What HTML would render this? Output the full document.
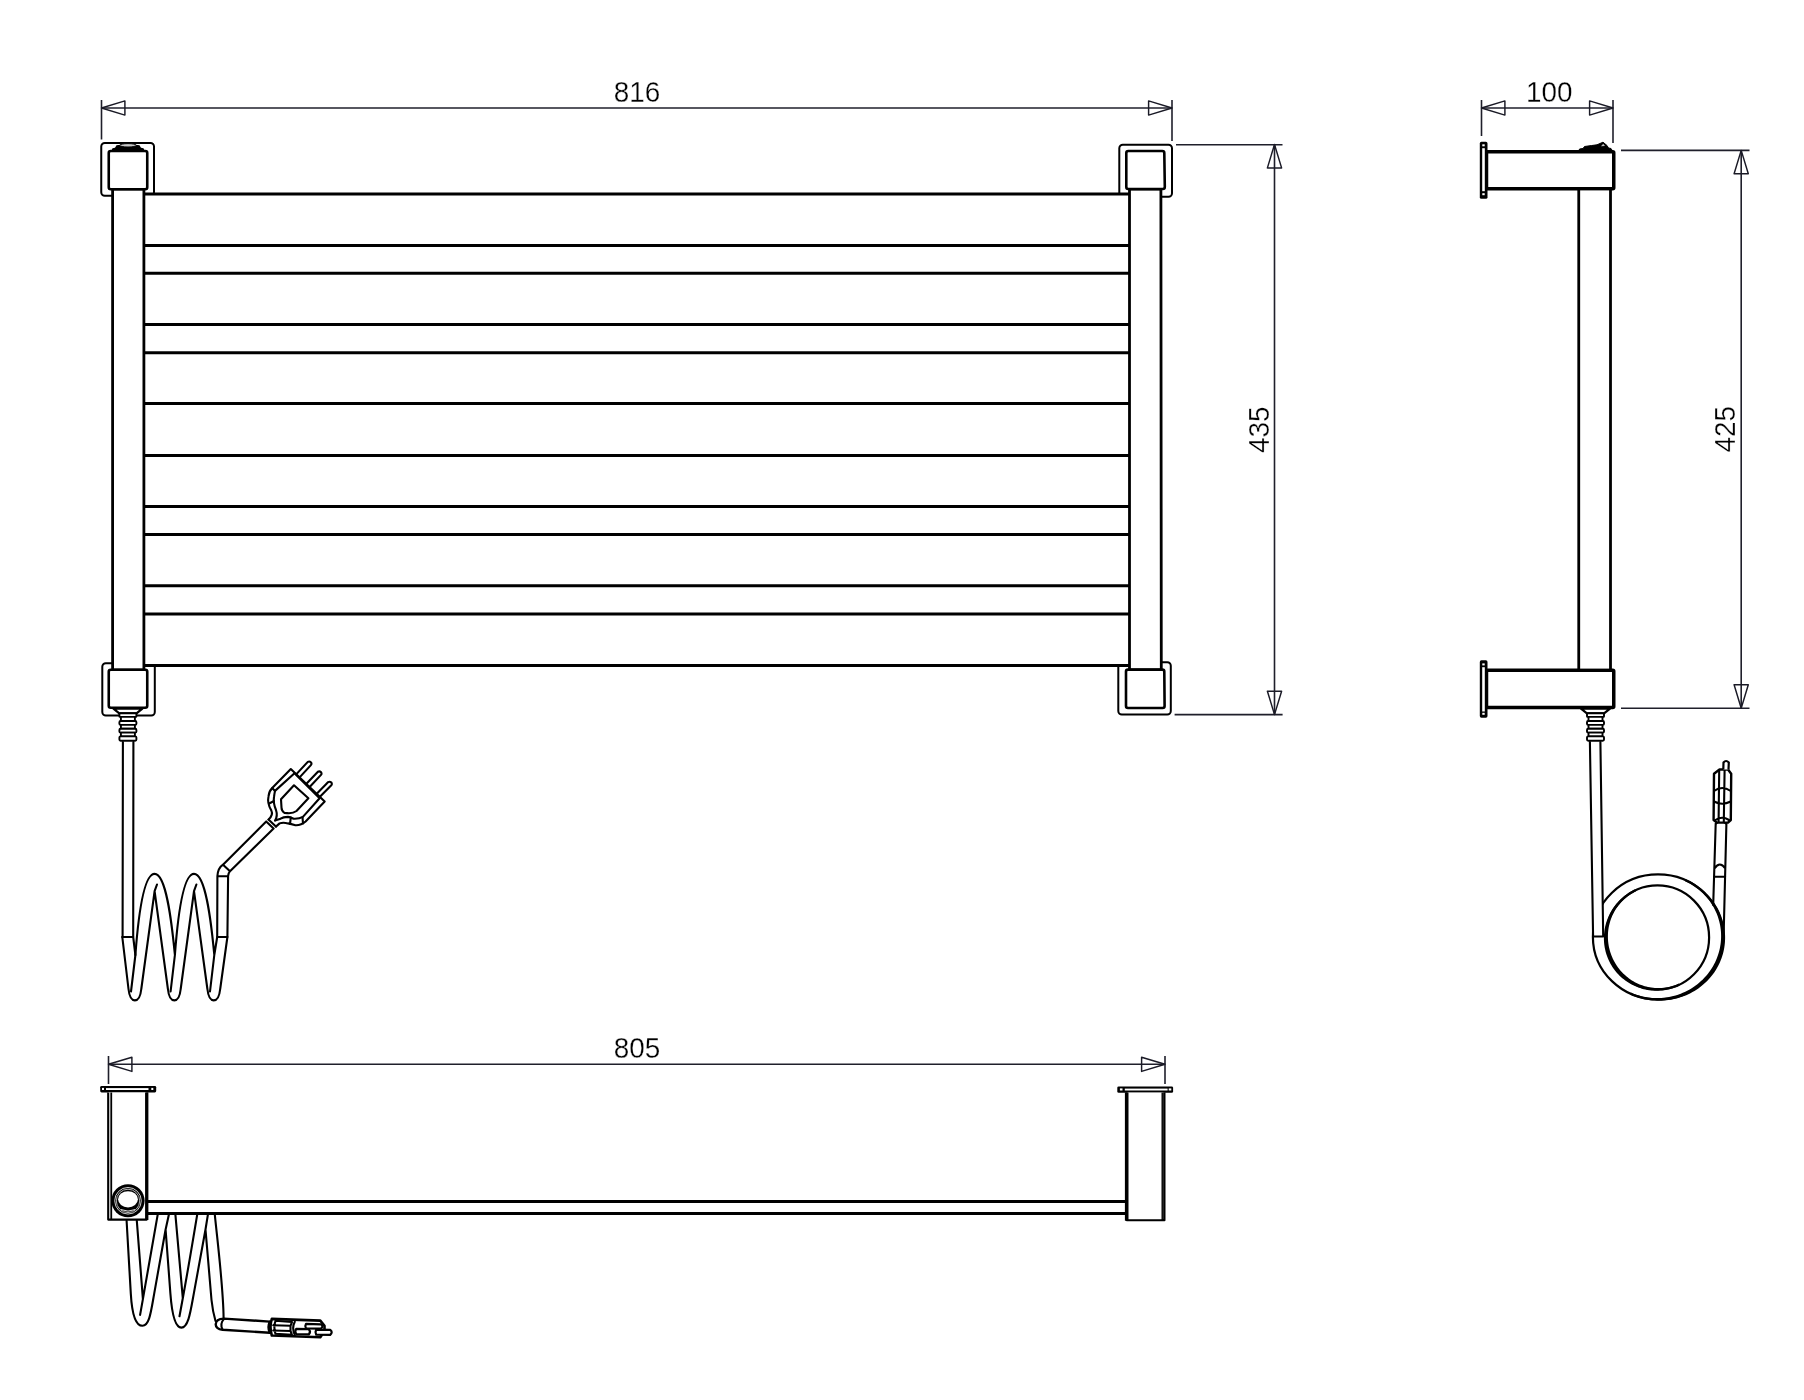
<!DOCTYPE html>
<html><head><meta charset="utf-8">
<style>
html,body{margin:0;padding:0;background:#fff;}
body{width:1804px;height:1400px;overflow:hidden;}
svg{display:block;will-change:transform;}
.d{stroke:#1f1f2b;stroke-width:1.6;fill:none;}
.a{stroke:#1a1a26;stroke-width:1.45;fill:none;stroke-linejoin:round;}
.t{font-family:"Liberation Sans",sans-serif;font-size:29.5px;fill:#000;stroke:#fff;stroke-width:0.3px;paint-order:normal;}
.k{stroke:#000;stroke-width:2.8;fill:#fff;}
.ka{stroke:#000;stroke-width:3.5;fill:#fff;}
.kn{stroke:#000;stroke-width:3;fill:none;}
.b2{stroke:#000;stroke-width:2.2;fill:#fff;}
.br{stroke:#000;stroke-width:2;fill:#fff;}
.cp{stroke:#000;stroke-width:2.6;fill:#fff;}
.c{stroke:#000;stroke-width:2;fill:#fff;stroke-linejoin:round;}
.cn{stroke:#000;stroke-width:2.1;fill:none;stroke-linejoin:round;stroke-linecap:round;}
</style></head>
<body>
<svg width="1804" height="1400" viewBox="0 0 1804 1400">
<rect width="1804" height="1400" fill="#fff"/>
<defs>
  <g id="conn">
    <path d="M-14.5,708.6 L14.5,708.6 L8.6,713.4 L-8.6,713.4 Z" fill="#fff" stroke="#000" stroke-width="2.2" stroke-linejoin="round"/>
    <g stroke="#000" stroke-width="1.9" fill="#fff" stroke-linejoin="round">
      <rect x="-8.5" y="713.2" width="17" height="3.7" rx="0.6"/>
      <rect x="-7" y="716.9" width="14" height="4.1"/>
      <rect x="-8.5" y="721" width="17" height="3.9" rx="1.2"/>
      <rect x="-7" y="724.9" width="14" height="3.8"/>
      <rect x="-8.5" y="728.7" width="17" height="3.9" rx="1.2"/>
      <rect x="-7" y="732.6" width="14" height="3.8"/>
      <rect x="-8.5" y="736.4" width="17" height="4.3" rx="1.2"/>
    </g>
  </g>
</defs>


<!-- ===== FRONT VIEW ===== -->
<g id="front">
  <!-- dimension 816 -->
  <line class="d" x1="101.5" y1="100" x2="101.5" y2="139.5"/>
  <line class="d" x1="1172" y1="100" x2="1172" y2="141"/>
  <line class="d" x1="101.5" y1="108" x2="1172" y2="108"/>
  <path class="a" d="M101.5,108 L124.9,100.9 L124.9,115.1 Z"/>
  <path class="a" d="M1172,108 L1148.6,100.9 L1148.6,115.1 Z"/>
  <text class="t" x="0" y="0" text-anchor="middle" transform="translate(637,101.7) scale(0.945,1)">816</text>

  <!-- brackets -->
  <rect class="br" x="101.25" y="143" width="52.75" height="52.75" rx="3.5"/>
  <rect class="br" x="1119.3" y="144.8" width="52.7" height="52" rx="3.5"/>
  <rect class="br" x="102.3" y="663.3" width="52.5" height="52.2" rx="3.5"/>
  <rect class="br" x="1118.3" y="662.2" width="52.5" height="52.3" rx="3.5"/>

  <!-- panel bars -->
  <rect x="144" y="193.7" width="985" height="471.7" fill="#fff"/>
  <g class="kn">
    <line x1="144" y1="194" x2="1129" y2="194"/>
    <line x1="144" y1="245.4" x2="1129" y2="245.4"/>
    <line x1="144" y1="273.3" x2="1129" y2="273.3"/>
    <line x1="144" y1="324.5" x2="1129" y2="324.5"/>
    <line x1="144" y1="352.7" x2="1129" y2="352.7"/>
    <line x1="144" y1="403.6" x2="1129" y2="403.6"/>
    <line x1="144" y1="455.4" x2="1129" y2="455.4"/>
    <line x1="144" y1="506.4" x2="1129" y2="506.4"/>
    <line x1="144" y1="534.5" x2="1129" y2="534.5"/>
    <line x1="144" y1="585.7" x2="1129" y2="585.7"/>
    <line x1="144" y1="614" x2="1129" y2="614"/>
    <line x1="144" y1="665.4" x2="1129" y2="665.4"/>
  </g>

  <!-- tubes -->
  <rect class="k" x="112.6" y="189" width="31.3" height="481"/>
  <path class="k" d="M1129.5,189 L1160.9,189 L1161.3,670 L1129.5,670 Z"/>

  <!-- caps -->
  <rect class="cp" x="108.75" y="151" width="38.5" height="38.3" rx="2"/>
  <path fill="#000" d="M111,151.5 L112.5,148.3 L115,147.8 L116.5,145.2 Q128,143.3 139.5,145.2 L141,147.8 L143.5,148.3 L145,151.5 Z"/><ellipse cx="128" cy="145.3" rx="8.3" ry="1.7" fill="#c8c8c8" stroke="#000" stroke-width="1"/>
  <path class="cp" d="M1128.3,151 L1162.3,151 Q1164.3,151 1164.3,153 L1164.8,187 Q1164.8,189 1162.8,189 L1128.3,189 Q1126.3,189 1126.3,187 L1126.3,153 Q1126.3,151 1128.3,151 Z"/>
  <rect class="cp" x="108.75" y="669.75" width="38.5" height="38" rx="2"/>
  <path class="cp" d="M1128,669.6 L1162.3,669.6 Q1164.3,669.6 1164.3,671.6 L1164.6,706 Q1164.6,708 1162.6,708 L1128,708 Q1126,708 1126,706 L1126,671.6 Q1126,669.6 1128,669.6 Z"/>

  <!-- dimension 435 -->
  <line class="d" x1="1176" y1="144.8" x2="1282.5" y2="144.8"/>
  <line class="d" x1="1174.6" y1="714.6" x2="1282.6" y2="714.6"/>
  <line class="d" x1="1274.5" y1="144.5" x2="1274.5" y2="714.6"/>
  <path class="a" d="M1274.5,144.5 L1267.4,167.9 L1281.6,167.9 Z"/>
  <path class="a" d="M1274.5,714.6 L1267.4,691.2 L1281.6,691.2 Z"/>
  <text class="t" x="0" y="0" text-anchor="middle" transform="translate(1269.2,429.7) rotate(-90) scale(0.945,1)">435</text>
</g>

<!-- ===== SIDE VIEW ===== -->
<g id="side">
  <line class="d" x1="1481.5" y1="100" x2="1481.5" y2="136"/>
  <line class="d" x1="1613" y1="100" x2="1613" y2="143"/>
  <line class="d" x1="1481.5" y1="108" x2="1613" y2="108"/>
  <path class="a" d="M1481.5,108 L1504.9,100.9 L1504.9,115.1 Z"/>
  <path class="a" d="M1613,108 L1589.6,100.9 L1589.6,115.1 Z"/>
  <text class="t" x="0" y="0" text-anchor="middle" transform="translate(1549.3,102) scale(0.945,1)">100</text>

  <!-- arms -->
  <rect class="ka" x="1486.5" y="151.75" width="127.25" height="37" rx="1"/>
  <rect class="ka" x="1486.5" y="670.25" width="127.25" height="37.25" rx="1"/>
  <rect class="k" x="1578.75" y="189" width="31.75" height="481"/>
  <rect x="1479.8" y="141.8" width="7.7" height="57" rx="1.6" fill="#000"/><rect x="1482.2" y="148.2" width="2.6" height="43" fill="#fff"/><rect x="1482.3" y="144.3" width="2.4" height="2" fill="#fff"/><rect x="1482.3" y="193.2" width="2.4" height="2" fill="#fff"/>
  <rect x="1479.8" y="660.3" width="7.7" height="57.4" rx="1.6" fill="#000"/><rect x="1482.2" y="667.2" width="2.6" height="44.3" fill="#fff"/><rect x="1482.3" y="663.4" width="2.4" height="2" fill="#fff"/><rect x="1482.3" y="712.8" width="2.4" height="2" fill="#fff"/>
  <path fill="#000" stroke="#000" stroke-width="1" stroke-linejoin="round" d="M1578.5,152 L1579.5,149 L1583,148.5 L1584.5,146.5 Q1592,145.5 1597,144.8 L1603,142.2 L1607,145.5 L1608.5,148 L1611,148.5 L1612.5,151 Z"/><path fill="#c0c0c0" d="M1601,146.2 L1603.2,143.8 L1605,146.1 Z"/>

  <!-- dimension 425 -->
  <line class="d" x1="1621" y1="150.4" x2="1749.5" y2="150.4"/>
  <line class="d" x1="1621" y1="708.2" x2="1749.5" y2="708.2"/>
  <line class="d" x1="1741.2" y1="150.4" x2="1741.2" y2="708.2"/>
  <path class="a" d="M1741.2,150.4 L1734.1,173.8 L1748.3,173.8 Z"/>
  <path class="a" d="M1741.2,708.2 L1734.1,684.8 L1748.3,684.8 Z"/>
  <text class="t" x="0" y="0" text-anchor="middle" transform="translate(1735.2,429.3) rotate(-90) scale(0.945,1)">425</text>
</g>

<!-- ===== TOP VIEW ===== -->
<g id="top">
  <line class="d" x1="108.5" y1="1056" x2="108.5" y2="1084"/>
  <line class="d" x1="1165" y1="1056" x2="1165" y2="1084"/>
  <line class="d" x1="108.5" y1="1064.3" x2="1165" y2="1064.3"/>
  <path class="a" d="M108.5,1064.3 L131.9,1057.2 L131.9,1071.4 Z"/>
  <path class="a" d="M1165,1064.3 L1141.6,1057.2 L1141.6,1071.4 Z"/>
  <text class="t" x="0" y="0" text-anchor="middle" transform="translate(637,1057.8) scale(0.945,1)">805</text>

  <rect x="100.2" y="1085.9" width="56" height="6.6" rx="1.4" fill="#000"/><rect x="106" y="1088.1" width="42.5" height="1.9" fill="#fff"/><rect x="102" y="1087.9" width="2" height="2.1" fill="#fff"/><rect x="151.3" y="1087.9" width="2" height="2.1" fill="#fff"/>
  <rect x="1117.3" y="1086.4" width="55.8" height="6.4" rx="1.4" fill="#000"/><rect x="1124.8" y="1088.6" width="42.8" height="1.9" fill="#fff"/><rect x="1119.9" y="1088.4" width="2.6" height="2.1" fill="#fff"/><rect x="1168.7" y="1088.4" width="2.6" height="2.1" fill="#fff"/>
  <path d="M108.2,1092.5 L108.2,1219.6 L146.75,1219.6 L146.75,1092.5" fill="#fff" stroke="#000" stroke-width="2.1" stroke-linejoin="round"/>
  <line x1="111.25" y1="1092.5" x2="111.25" y2="1219" stroke="#000" stroke-width="1.8"/>
  <line x1="146.75" y1="1092.5" x2="146.75" y2="1220" stroke="#000" stroke-width="3.3"/>
  <path d="M1126.8,1092.5 L1126.8,1220.3 L1164.5,1220.3 L1164.5,1092.5" fill="#fff" stroke="#000" stroke-width="2" stroke-linejoin="round"/>
  <line x1="1126.7" y1="1092.5" x2="1126.7" y2="1220.8" stroke="#000" stroke-width="3.6"/>
  <line x1="1163.2" y1="1092.5" x2="1163.2" y2="1220" stroke="#000" stroke-width="3.4"/><line x1="1163.2" y1="1093" x2="1163.2" y2="1219" stroke="#555" stroke-width="0.6"/>
  <line class="kn" x1="146.6" y1="1201.6" x2="1126.8" y2="1201.6"/>
  <line class="kn" x1="146.6" y1="1213.5" x2="1126.8" y2="1213.5"/>
  <circle cx="128" cy="1200.75" r="16.6" fill="#000"/>
  <circle cx="128" cy="1200.75" r="13.3" stroke="#fff" stroke-width="0.8" fill="none"/>
  <circle cx="128" cy="1200.9" r="11.7" stroke="#fff" stroke-width="0.7" fill="none"/>
  <ellipse cx="128" cy="1199.3" rx="9.9" ry="8.1" fill="#fff"/>
  <path d="M121,1209.6 Q128,1212.6 135,1209.6" stroke="#fff" stroke-width="0.9" fill="none"/>
</g>


<!-- ===== FRONT CABLE ===== -->
<g id="fcable">
  <use href="#conn" x="127.9" y="0"/>
  <path class="cn" d="M122.9,742 L122.6,937 M133.4,742 L133.2,937 L135.4,955 M122.3,937 L133,937"/>
  <path class="cn" d="M122.3,937 L128.5,989 C129.3,996.5 131.3,1000.4 134.9,1000.4 C138.5,1000.4 140.5,996.5 141.3,989 L154.6,891.2 L157,884.5 M154.6,891.2 L167.9,989 C168.7,996.5 170.7,1000.4 174.3,1000.4 C177.9,1000.4 179.9,996.5 180.7,989 L194,891.2 L196.4,884.5 M194,891.2 L207.4,989 C208.2,996.5 210.2,1000.4 213.8,1000.4 C217.4,1000.4 219.4,996.5 220.2,989 L227.4,937"/>
  <path class="cn" d="M131,991.5 L135.4,955 C138,920 143,873.9 154.6,873.9 C166,873.9 171.5,920 174.9,955 M170.6,991.5 L174.9,955 C177.5,920 182.5,873.9 194,873.9 C205.5,873.9 211,920 214.3,955 M210,991.5 L214.3,955 L217.2,937"/>
  <path class="cn" d="M217.2,937 L217.4,876 Q218,868 223,864.7 L266.2,821.5 M227.4,937 L228.1,876 Q228.5,873 230,871.2 L273.6,828.5 M217.2,937 L227.4,937 M217.4,876.3 L228.1,876.3 M223,864.7 L230,871.2 M266.2,821.5 L273.6,828.5 M268.5,819.6 L275.9,826.6"/>
  <!-- plug -->
  <path class="cn" d="M268.5,819.6 Q273.5,815 271.3,810.4 Q267,803 268.5,796.4 Q269,791 272.2,788.1 L290.8,769 L324.7,801.5 L305.6,821.5 Q301,825.5 295.4,825.2 Q291,824 288,823.4 Q283,822 279.6,823.4 L275.9,826.6"/>
  <path class="cn" d="M275,820.6 Q278,816 276,810 Q273,803 274,797 Q274.5,793 275,790.9 L294.5,773.2 L319.6,798.3 L302.9,816.9 Q299,819 293.6,818.7 Q290,817 288,816.9 Q283,817 280.6,818.7 L275,820.6"/>
  <path class="cn" d="M272.2,788.1 L275,790.9 M269.2,803.5 L274,801 M290,824 L290.8,817.5 M303,823.5 L302.5,817.2"/>
  <path class="cn" d="M294,785.3 L308.4,798.3 L296.5,811 Q293,813.6 287.1,813.1 L284.5,813 Q281.5,811 281.5,807.6 L281,799.2 Z"/>
  <path class="cn" d="M297.1,773.4 L307.8,761.9 Q309.5,761 311,762.4 Q312,764 310.9,765.1 L300.3,776.6 M306.9,783.3 L317.9,771.7 Q319.6,770.8 321.1,772.2 Q322,773.8 321,774.9 L310.1,786.5 M317,793.4 L328.2,782.1 Q329.9,781.2 331.4,782.6 Q332.3,784.2 331.3,785.3 L320.2,796.6"/>
</g>

<!-- ===== SIDE CABLE ===== -->
<g id="scable">
  <use href="#conn" x="1595.5" y="0"/>
  <ellipse cx="1658" cy="936.9" rx="65.1" ry="62.5" fill="none" stroke="#000" stroke-width="2.2"/>
  <path d="M1685.98,879.26 L1688.05,880.23 L1690.10,881.27 L1692.10,882.37 L1694.07,883.54 L1695.99,884.77 L1697.87,886.07 L1699.70,887.42 L1701.49,888.84 L1703.22,890.31 L1704.90,891.84 L1706.53,893.42 L1708.10,895.06 L1709.61,896.74 L1711.06,898.48 L1712.45,900.26 L1713.78,902.09 L1715.04,903.97 L1716.23,905.88 L1717.36,907.84 L1718.41,909.83 L1719.39,911.86 L1720.30,913.92 L1721.13,916.01 L1721.89,918.13 L1722.57,920.27 L1723.17,922.44 L1723.69,924.63 L1724.13,926.83 L1724.49,929.05 L1724.77,931.28 L1724.97,933.53 L1725.08,935.77 L1725.11,938.03 L1725.05,940.28 L1724.92,942.53 L1724.69,944.77 L1724.39,947.01 L1724.00,949.23 L1723.53,951.44 L1722.97,953.64 L1722.34,955.81 L1721.62,957.96 L1720.82,960.08 L1719.95,962.18 L1718.99,964.24 L1717.96,966.27 L1716.86,968.26 L1715.68,970.22 L1714.42,972.13 L1713.10,973.99 L1711.71,975.81 L1710.25,977.58 L1708.73,979.29 L1707.14,980.95 L1705.50,982.56 L1703.79,984.11 L1702.03,985.59 L1700.22,987.02 L1698.36,988.38 L1696.44,989.67 L1694.49,990.90 L1692.48,992.06 L1690.44,993.16 L1688.36,994.18 L1686.25,995.13 L1684.10,996.00 L1681.93,996.81 L1679.73,997.54 L1677.50,998.19 L1675.25,998.77 L1672.99,999.28 L1670.70,999.70 L1668.41,1000.06 L1666.11,1000.33 L1663.79,1000.53 L1661.48,1000.65 L1659.16,1000.70 L1656.84,1000.67 L1654.53,1000.57 L1652.22,1000.39 L1649.92,1000.13 L1647.63,999.80 L1645.36,999.39 L1643.10,998.92 L1640.86,998.36 L1638.64,997.74 L1636.44,997.05 L1634.27,996.28 L1632.13,995.45 L1630.02,994.54 L1630.95,992.55 L1632.99,993.42 L1635.07,994.22 L1637.17,994.94 L1639.29,995.60 L1641.44,996.18 L1643.61,996.68 L1645.80,997.11 L1648.00,997.46 L1650.21,997.74 L1652.43,997.94 L1654.66,998.06 L1656.89,998.11 L1659.11,998.08 L1661.34,997.97 L1663.55,997.79 L1665.76,997.54 L1667.96,997.20 L1670.14,996.80 L1672.30,996.32 L1674.45,995.77 L1676.57,995.15 L1678.66,994.45 L1680.73,993.69 L1682.77,992.86 L1684.77,991.96 L1686.75,991.00 L1688.68,989.97 L1690.57,988.88 L1692.43,987.73 L1694.24,986.52 L1696.00,985.25 L1697.72,983.93 L1699.39,982.55 L1701.00,981.11 L1702.57,979.63 L1704.08,978.10 L1705.53,976.52 L1706.93,974.89 L1708.27,973.22 L1709.55,971.51 L1710.77,969.75 L1711.93,967.96 L1713.02,966.14 L1714.05,964.28 L1715.01,962.38 L1715.90,960.46 L1716.73,958.51 L1717.48,956.54 L1718.17,954.54 L1718.79,952.52 L1719.33,950.48 L1719.81,948.42 L1720.21,946.35 L1720.54,944.26 L1720.79,942.17 L1720.97,940.06 L1721.07,937.96 L1721.10,935.84 L1721.06,933.73 L1720.93,931.62 L1720.74,929.51 L1720.47,927.41 L1720.12,925.32 L1719.69,923.24 L1719.20,921.18 L1718.62,919.13 L1717.98,917.10 L1717.25,915.09 L1716.46,913.10 L1715.59,911.14 L1714.65,909.21 L1713.64,907.32 L1712.56,905.45 L1711.42,903.63 L1710.20,901.84 L1708.92,900.09 L1707.57,898.39 L1706.16,896.74 L1704.69,895.13 L1703.16,893.57 L1701.58,892.07 L1699.93,890.62 L1698.24,889.23 L1696.49,887.90 L1694.69,886.63 L1692.85,885.42 L1690.96,884.28 L1689.03,883.20 L1687.05,882.19 L1685.05,881.25 Z" fill="#000"/>
  <ellipse cx="1657.5" cy="937.4" rx="51.6" ry="52" fill="none" stroke="#000" stroke-width="2.2"/>
  <path d="M1679.77,985.52 L1678.09,986.28 L1676.39,986.98 L1674.66,987.62 L1672.91,988.20 L1671.15,988.72 L1669.37,989.19 L1667.57,989.59 L1665.76,989.93 L1663.94,990.21 L1662.10,990.43 L1660.27,990.58 L1658.42,990.67 L1656.58,990.70 L1654.73,990.67 L1652.88,990.57 L1651.04,990.41 L1649.20,990.19 L1647.37,989.90 L1645.55,989.55 L1643.74,989.13 L1641.95,988.65 L1640.17,988.11 L1638.41,987.50 L1636.67,986.84 L1634.96,986.11 L1633.26,985.32 L1631.60,984.47 L1629.97,983.56 L1628.37,982.60 L1626.80,981.57 L1625.27,980.49 L1623.78,979.36 L1622.32,978.17 L1620.91,976.93 L1619.55,975.63 L1618.23,974.29 L1616.96,972.90 L1615.74,971.47 L1614.57,969.99 L1613.46,968.47 L1612.40,966.91 L1611.39,965.31 L1610.45,963.67 L1609.57,962.01 L1608.74,960.31 L1607.98,958.58 L1607.28,956.82 L1606.64,955.04 L1606.07,953.24 L1605.57,951.42 L1605.13,949.58 L1604.75,947.73 L1604.44,945.87 L1604.21,943.99 L1604.03,942.11 L1603.93,940.23 L1603.89,938.34 L1603.92,936.46 L1604.02,934.58 L1604.18,932.70 L1604.41,930.83 L1604.70,928.98 L1605.06,927.13 L1605.49,925.30 L1605.97,923.49 L1606.52,921.70 L1607.13,919.93 L1607.80,918.18 L1608.54,916.46 L1609.33,914.77 L1610.17,913.10 L1611.08,911.47 L1612.03,909.87 L1613.04,908.31 L1614.11,906.79 L1615.22,905.30 L1616.38,903.85 L1617.59,902.44 L1618.84,901.08 L1620.14,899.76 L1621.49,898.49 L1622.87,897.26 L1624.29,896.08 L1625.76,894.95 L1627.25,893.88 L1628.79,892.85 L1630.35,891.87 L1631.95,890.95 L1633.57,890.09 L1635.23,889.28 L1636.16,891.27 L1634.57,892.05 L1633.02,892.89 L1631.50,893.78 L1630.01,894.73 L1628.55,895.73 L1627.14,896.79 L1625.76,897.89 L1624.42,899.05 L1623.13,900.25 L1621.88,901.50 L1620.68,902.79 L1619.52,904.13 L1618.42,905.50 L1617.36,906.91 L1616.36,908.36 L1615.41,909.85 L1614.51,911.36 L1613.66,912.91 L1612.88,914.48 L1612.14,916.08 L1611.47,917.70 L1610.85,919.35 L1610.29,921.01 L1609.79,922.70 L1609.34,924.39 L1608.96,926.10 L1608.63,927.83 L1608.37,929.56 L1608.16,931.29 L1608.01,933.04 L1607.93,934.78 L1607.90,936.53 L1607.93,938.27 L1608.01,940.01 L1608.16,941.75 L1608.36,943.48 L1608.63,945.20 L1608.94,946.91 L1609.32,948.61 L1609.75,950.30 L1610.24,951.97 L1610.78,953.62 L1611.38,955.25 L1612.03,956.86 L1612.73,958.45 L1613.48,960.01 L1614.29,961.55 L1615.15,963.06 L1616.05,964.53 L1617.01,965.98 L1618.01,967.40 L1619.06,968.78 L1620.15,970.13 L1621.29,971.44 L1622.48,972.70 L1623.70,973.93 L1624.97,975.12 L1626.28,976.27 L1627.62,977.37 L1629.01,978.42 L1630.43,979.42 L1631.88,980.38 L1633.37,981.29 L1634.88,982.14 L1636.43,982.95 L1638.01,983.69 L1639.61,984.39 L1641.23,985.03 L1642.88,985.60 L1644.55,986.13 L1646.23,986.59 L1647.94,986.99 L1649.65,987.33 L1651.38,987.61 L1653.12,987.83 L1654.87,987.99 L1656.62,988.08 L1658.38,988.11 L1660.13,988.08 L1661.89,987.98 L1663.64,987.82 L1665.39,987.59 L1667.12,987.30 L1668.85,986.95 L1670.56,986.53 L1672.26,986.06 L1673.94,985.52 L1675.60,984.91 L1677.23,984.25 L1678.84,983.53 Z" fill="#000"/>
  <path d="M1589.9,742 L1593.1,936.5 L1603.2,936.5 L1600.4,742 Z" fill="#fff" stroke="none"/>
  <path class="cn" d="M1589.9,742 L1593.1,936.5 M1600.4,742 L1603.2,936.5 M1593.1,936.5 L1603.2,936.5"/>
    <path class="cn" d="M1713.2,905 L1715.7,823.5 M1723.6,937 L1726.4,823.5 M1714.3,876.8 L1725.2,876.8 M1714.5,868.5 Q1719.8,860.5 1725.3,868.5"/>
  <!-- side plug -->
  <path class="cn" d="M1716,823.5 Q1720.5,819 1726,823.5"/>
  <path d="M1714,773.8 L1719.5,769.5 L1728,769.5 L1731.2,773.8 L1730.8,820 L1728,822.6 L1717,822.6 L1713.6,820 Z" fill="#fff" stroke="#000" stroke-width="2.4" stroke-linejoin="round"/>
  <path class="cn" d="M1719.2,770 L1718.6,822 M1724.6,770 L1723.8,822 M1714,791 Q1722,785 1730.8,791 M1714,801.5 Q1722,806 1730.8,801.5 M1715.5,820 Q1722,815.5 1729,820"/>
  <path d="M1723.3,769.5 L1723.5,762.5 Q1726,759.5 1728.8,762.5 L1728.5,769.5" fill="#fff" stroke="#000" stroke-width="2.2" stroke-linejoin="round"/>
</g>

<!-- ===== TOP VIEW CABLE ===== -->
<g id="tcable">
  <path class="cn" d="M126.6,1220.7 L130.8,1293.6 C131.8,1311 135,1325.8 142.4,1325.8 C149.5,1325.8 151,1311.5 154.2,1293.6 L165.6,1229.5 L168.9,1214.6 M165.6,1229.5 L170.4,1293.6 C171.7,1310.9 174.5,1327.6 181.4,1327.6 C188.5,1327.6 190.6,1310.9 193.8,1293.6 L205.5,1229.5 L207.9,1214.6 M205.5,1229.5 L211.5,1300 Q212.8,1312 215.5,1321"/>
  <path class="cn" d="M136.8,1220.7 L142.9,1299.1 L140.1,1314.9 M142.9,1299.1 C148,1270 153,1240 157.7,1214.6 M175.4,1214.6 L182.8,1298.2 L179.5,1316.3 M182.8,1298.2 C188,1270 193,1240 197.2,1214.6 M214.8,1214.6 C219,1255 223.4,1290 223.6,1318.4"/>
  <path d="M224,1318.6 L269.7,1321.6 L269.7,1332.7 L222.6,1329.8 Q215.8,1329 215.7,1324.2 Q216,1318.8 224,1318.6 Z" fill="#fff" stroke="#000" stroke-width="2.4" stroke-linejoin="round"/>
  <path class="cn" d="M224,1318.9 Q219.5,1324 222.6,1329.6"/>
  <path class="cn" d="M269.7,1321.6 Q267,1327 269.7,1332.7"/>
  <path d="M271.8,1318.9 L320.3,1320.6 L324.5,1325.8 L324.5,1331 L320.3,1337.2 L271.8,1335.5 Q269.2,1327 271.8,1318.9 Z" fill="#fff" stroke="#000" stroke-width="2.6" stroke-linejoin="round"/>
  <path class="cn" d="M275.5,1320.8 L292,1322 L290.5,1325.8 L290.5,1331 L292,1334.8 L275.5,1333.8 Q273.2,1327 275.5,1320.8 M273.2,1325.2 L290.5,1325.8 M273.2,1330.5 L290.5,1331 M294.8,1321.8 Q291.5,1328 294.8,1335"/>
  <path d="M306,1323.8 L321,1324.3 Q323.8,1326.2 321,1328.6 L306,1328.4 Q304.6,1326 306,1323.8 Z" fill="#fff" stroke="#000" stroke-width="2.2" stroke-linejoin="round"/>
  <path d="M296.2,1328.8 L308.8,1329.2 Q311.2,1331.7 308.8,1334.4 L296.2,1334 Q294.4,1331.3 296.2,1328.8 Z" fill="#fff" stroke="#000" stroke-width="2.2" stroke-linejoin="round"/>
  <path d="M316.2,1329.6 L330.2,1329.9 Q333.2,1332.3 330.2,1334.9 L316.2,1334.7 Q314.8,1332.1 316.2,1329.6 Z" fill="#fff" stroke="#000" stroke-width="2.2" stroke-linejoin="round"/>
</g>

</svg>
</body></html>
